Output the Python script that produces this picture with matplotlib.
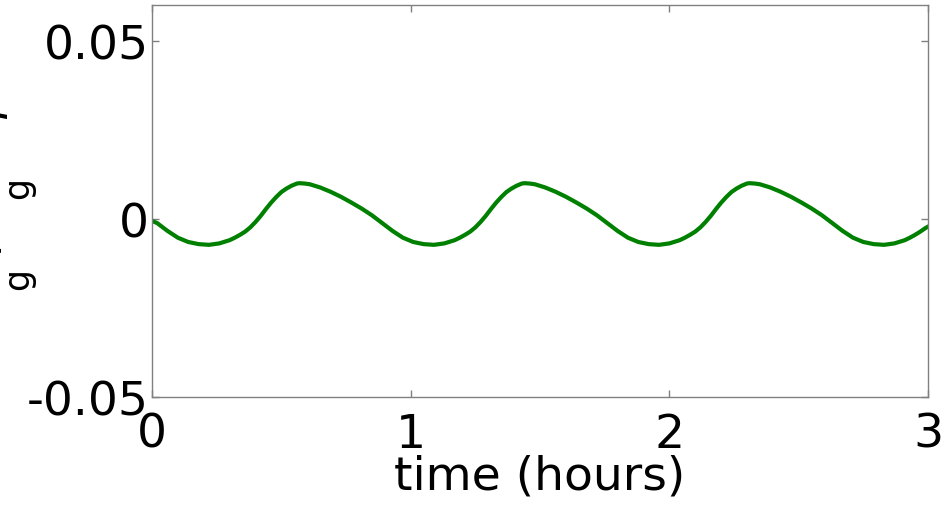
import matplotlib
matplotlib.use('Agg')
import matplotlib.pyplot as plt

# time in hours and the signal
hours = [0.00, 0.02, 0.06, 0.10, 0.14, 0.18, 0.22, 0.26, 0.30, 0.32, 0.34, 0.36, 0.38, 0.40, 0.42,
         0.44, 0.46, 0.48, 0.50, 0.52, 0.54, 0.56, 0.57,
         0.59, 0.61, 0.65, 0.69, 0.73, 0.77, 0.81, 0.85, 0.89, 0.93, 0.97, 1.01, 1.05, 1.09, 1.13,
         1.17, 1.19, 1.21, 1.23, 1.25, 1.27, 1.29, 1.31, 1.33, 1.35, 1.37, 1.39, 1.41, 1.43, 1.44,
         1.46, 1.48, 1.52, 1.56, 1.60, 1.64, 1.68, 1.72, 1.76, 1.80, 1.84, 1.88, 1.92, 1.96, 2.00,
         2.04, 2.06, 2.08, 2.10, 2.12, 2.14, 2.16, 2.18, 2.20, 2.22, 2.24, 2.26, 2.28, 2.30, 2.31,
         2.33, 2.35, 2.39, 2.43, 2.47, 2.51, 2.55, 2.59, 2.63, 2.67, 2.71, 2.75, 2.79, 2.83, 2.87,
         2.91, 2.93, 2.95, 2.97, 2.99, 3.00]
signal = [-0.0006, -0.0012, -0.0034, -0.0053, -0.0065, -0.0071, -0.0073, -0.0069, -0.0060, -0.0053,
          -0.0045, -0.0036, -0.0024, -0.0009, 0.0008, 0.0027, 0.0045, 0.0061, 0.0075, 0.0085, 0.0093,
          0.0099, 0.0100,
          0.0099, 0.0097, 0.0088, 0.0076, 0.0062, 0.0046, 0.0029, 0.0010, -0.0012, -0.0034, -0.0053,
          -0.0065, -0.0071, -0.0073, -0.0069, -0.0060, -0.0053, -0.0045, -0.0036, -0.0024, -0.0009,
          0.0008, 0.0027, 0.0045, 0.0061, 0.0075, 0.0085, 0.0093, 0.0099, 0.0100,
          0.0099, 0.0097, 0.0088, 0.0076, 0.0062, 0.0046, 0.0029, 0.0010, -0.0012, -0.0034, -0.0053,
          -0.0065, -0.0071, -0.0073, -0.0069, -0.0060, -0.0053, -0.0045, -0.0036, -0.0024, -0.0009,
          0.0008, 0.0027, 0.0045, 0.0061, 0.0075, 0.0085, 0.0093, 0.0099, 0.0100,
          0.0099, 0.0097, 0.0088, 0.0076, 0.0062, 0.0046, 0.0029, 0.0010, -0.0012, -0.0034, -0.0053,
          -0.0065, -0.0071, -0.0073, -0.0069, -0.0060, -0.0053, -0.0045, -0.0036, -0.0026, -0.0022]

xticks = [0, 1, 2, 3]
yticks = [-0.05, 0, 0.05]
ytick_labels = ['-0.05', '0', '0.05']

W, H = 948, 506

plt.rcParams['font.family'] = 'DejaVu Sans'
plt.rcParams['mathtext.fontset'] = 'dejavusans'

fig = plt.figure(figsize=(W / 100, H / 100), dpi=100)
ax = fig.add_axes([152 / W, 1 - 398 / H, 776 / W, 392 / H])

ax.plot(hours, signal, color='#008000', linewidth=3)

ax.set_xlim(0, 3)
ax.set_ylim(-0.05, 0.06)
ax.set_xticks(xticks)
ax.set_xticklabels([str(t) for t in xticks])
ax.set_yticks(yticks)
ax.set_yticklabels(ytick_labels)

for s in ax.spines.values():
    s.set_color('#808080')
    s.set_linewidth(1)
ax.tick_params(direction='in', length=5, width=1, color='#808080', labelsize=34,
               top=True, right=True)
ax.tick_params(axis='x', pad=10.5)
ax.tick_params(axis='y', pad=2)

ax.set_xlabel('time (hours)', fontsize=34, labelpad=-2)

# y label, mostly cut off by the left edge of the figure as in the reference
def ylab(s, px, py, size):
    fig.text(px / W, 1 - py / H, s, rotation=90, rotation_mode='anchor',
             ha='center', va='baseline', fontsize=size)

ylab(r'$\theta$', -2, 298, 34)
ylab('/', -2, 244, 34)
ylab(r'$\theta$', -2, 210, 34)
ylab(r'$\phi$', -2, 112, 34)
ylab('g', 28, 279, 25)
ylab('g', 28, 188, 25)

fig.savefig('out.png', dpi=100)
